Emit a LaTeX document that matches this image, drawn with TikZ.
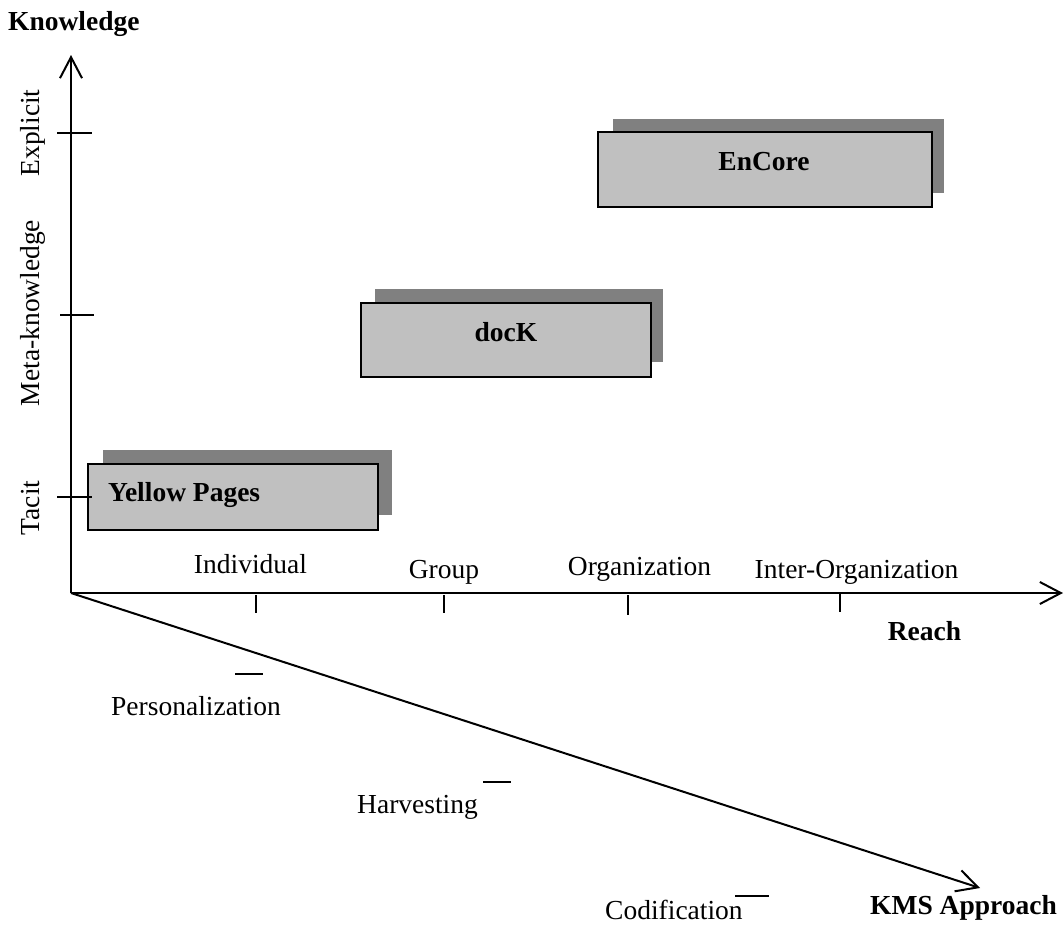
\documentclass[tikz,border=0pt]{standalone}
\usepackage{fontspec}
\setmainfont{Liberation Serif}
\usetikzlibrary{arrows.meta}
\definecolor{boxfill}{HTML}{C0C0C0}
\definecolor{shadowfill}{HTML}{808080}
\tikzset{
  axisline/.style={line width=2pt,-{Straight Barb[length=21pt,width=22pt,line width=2pt]}},
  tickline/.style={line width=2pt},
  lbl/.style={inner sep=0pt,anchor=base,font=\fontsize{27.5}{33}\selectfont},
  blbl/.style={lbl,font=\fontsize{27.5}{33}\selectfont\bfseries},
  vlbl/.style={lbl,rotate=90},
  mainbox/.style={fill=boxfill,draw=black,line width=2pt},
}
\begin{document}
\begin{tikzpicture}[x=1pt,y=-1pt]
\useasboundingbox (0,0) rectangle (1064,926);
% boxes
\fill[shadowfill] (103,450) rectangle (392,515);
\draw[mainbox] (88,464) rectangle (378,530);
\fill[shadowfill] (375,289) rectangle (663,362);
\draw[mainbox] (361,303) rectangle (651,377);
\fill[shadowfill] (613,119) rectangle (944,193);
\draw[mainbox] (598,132) rectangle (932,207);
\node[blbl,anchor=base west] (yp) at (108,501) {Yellow Pages};
\node[blbl] (dk) at (506,341) {docK};
\node[blbl] (ec) at (764,170) {EnCore};
% axes
\coordinate (O) at (71,593);
\coordinate (ytip) at (71,55);
\coordinate (xtip) at (1063,593);
\coordinate (ztip) at (980,888);
\draw[axisline] (O) -- (ytip);
\draw[axisline] (O) -- (xtip);
\draw[axisline] (O) -- (ztip);
% vertical ticks
\coordinate (t1a) at (57,133); \coordinate (t1b) at (92,133);
\coordinate (t2a) at (60,315); \coordinate (t2b) at (94,315);
\coordinate (t3a) at (57,497); \coordinate (t3b) at (92,497);
\draw[tickline] (t1a) -- (t1b);
\draw[tickline] (t2a) -- (t2b);
\draw[tickline] (t3a) -- (t3b);
% horizontal ticks
\coordinate (h1a) at (256,595); \coordinate (h1b) at (256,613);
\coordinate (h2a) at (444,595); \coordinate (h2b) at (444,613);
\coordinate (h3a) at (628,595); \coordinate (h3b) at (628,615);
\coordinate (h4a) at (840,594); \coordinate (h4b) at (840,612);
\draw[tickline] (h1a) -- (h1b);
\draw[tickline] (h2a) -- (h2b);
\draw[tickline] (h3a) -- (h3b);
\draw[tickline] (h4a) -- (h4b);
% diagonal ticks
\coordinate (d1a) at (235,674); \coordinate (d1b) at (263,674);
\coordinate (d2a) at (483,782); \coordinate (d2b) at (511,782);
\coordinate (d3a) at (735,896); \coordinate (d3b) at (769,896);
\draw[tickline] (d1a) -- (d1b);
\draw[tickline] (d2a) -- (d2b);
\draw[tickline] (d3a) -- (d3b);
% labels
\node[blbl,anchor=base west] (kn) at (8,30) {Knowledge};
\node[vlbl] (ex) at (39,133) {Explicit};
\node[vlbl] (mk) at (39,313) {Meta-knowledge};
\node[vlbl] (ta) at (39,508) {Tacit};
\node[lbl] (ind) at (250.5,573) {Individual};
\node[lbl] (grp) at (444,578) {Group};
\node[lbl] (org) at (639.5,575) {Organization};
\node[lbl] (iorg) at (856.5,578) {Inter-Organization};
\node[blbl] (reach) at (924.5,640) {Reach};
\node[lbl,anchor=base west] (pers) at (111,715) {Personalization};
\node[lbl,anchor=base west] (harv) at (357,813) {Harvesting};
\node[lbl,anchor=base west] (cod) at (605,919) {Codification};
\node[blbl,anchor=base west] (kms) at (870,914) {KMS Approach};
\end{tikzpicture}
\end{document}
